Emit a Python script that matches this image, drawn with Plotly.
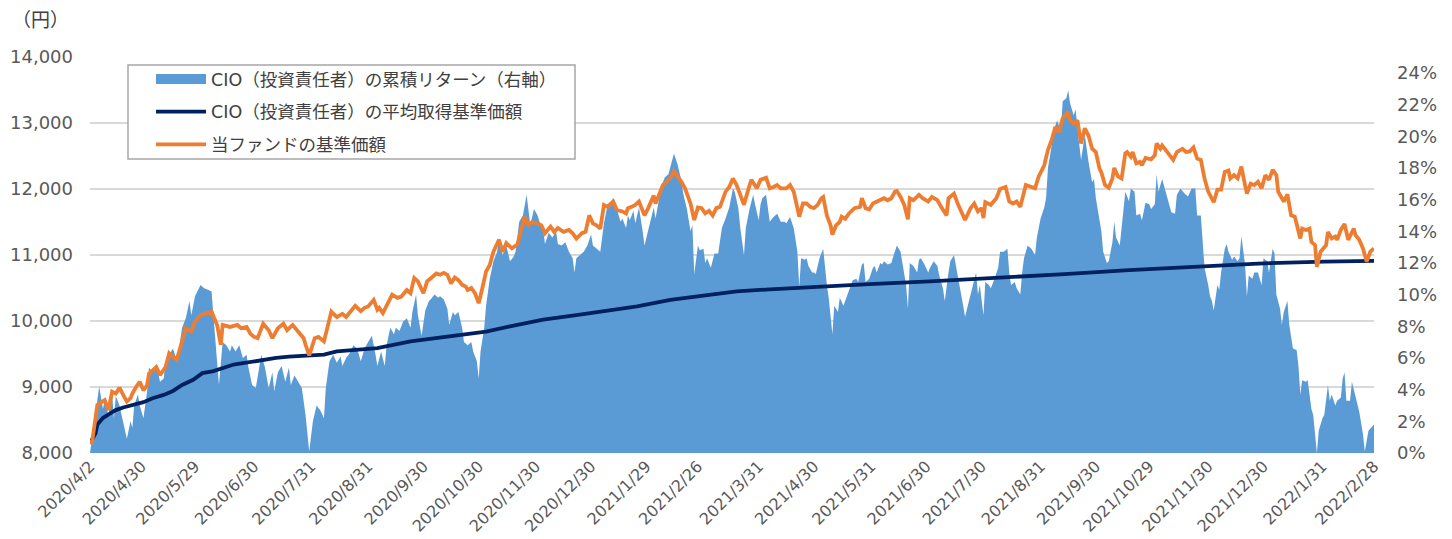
import pandas as pd
import plotly.graph_objects as go

START = "2020-04-02"
END = "2022-02-28"

tick_labels = ["2020/4/2", "2020/4/30", "2020/5/29", "2020/6/30", "2020/7/31", "2020/8/31",
               "2020/9/30", "2020/10/30", "2020/11/30", "2020/12/30", "2021/1/29", "2021/2/26",
               "2021/3/31", "2021/4/30", "2021/5/31", "2021/6/30", "2021/7/30", "2021/8/31",
               "2021/9/30", "2021/10/29", "2021/11/30", "2021/12/30", "2022/1/31", "2022/2/28"]

pct_tick_values = [0, 2, 4, 6, 8, 10, 12, 14, 16, 18, 20, 22, 24]
pct_tick_labels = ["0%", "2%", "4%", "6%", "8%", "10%", "12%", "14%", "16%", "18%", "20%", "22%", "24%"]

series_names = ["CIO（投資責任者）の累積リターン（右軸）",
                "CIO（投資責任者）の平均取得基準価額",
                "当ファンドの基準価額"]

# (calendar days since 2020-04-02, cumulative return in %)
cio_return_pct = [
    (0, 0.0), (3, 2.6), (5, 4.2), (7, 2.8), (8, 3.3), (10, 2.4), (12, 3.7), (13, 2.2), (14, 3.6), (16, 3.0),
    (18, 2.0), (20, 0.9), (22, 2.0), (23, 1.6), (24, 3.0), (26, 3.7), (27, 3.0), (29, 2.2), (31, 3.9), (32, 5.4),
    (34, 5.1), (36, 5.6), (38, 4.5), (40, 4.7), (41, 5.8), (43, 6.2), (45, 6.6), (47, 5.9), (48, 6.4), (50, 7.9),
    (52, 8.5), (54, 9.6), (55, 8.7), (56, 9.3), (57, 9.9), (60, 10.6), (62, 10.4), (64, 10.3), (66, 10.2), (68, 7.2),
    (70, 4.3), (72, 7.0), (74, 6.8), (76, 6.4), (77, 6.8), (79, 6.4), (81, 6.8), (83, 6.0), (85, 6.2), (86, 5.4),
    (88, 4.3), (90, 4.1), (91, 4.9), (93, 6.2), (95, 5.4), (97, 4.1), (99, 5.1), (100, 3.9), (102, 5.1), (104, 5.5),
    (106, 4.5), (108, 5.4), (109, 4.3), (111, 4.9), (113, 4.5), (115, 4.1), (117, 2.4), (118, 1.2), (119, 0.1), (121, 2.0),
    (123, 3.0), (125, 2.7), (127, 2.2), (128, 4.1), (130, 5.8), (132, 6.2), (134, 5.7), (136, 6.1), (137, 5.5), (139, 6.0),
    (141, 6.3), (143, 6.8), (145, 6.6), (147, 5.8), (149, 6.6), (151, 7.0), (153, 7.4), (155, 6.2), (156, 5.5), (158, 6.4),
    (160, 5.5), (161, 6.8), (163, 7.9), (165, 7.5), (166, 7.9), (168, 7.7), (170, 8.3), (172, 8.5), (174, 7.9), (175, 8.9),
    (177, 10.0), (178, 8.7), (180, 7.4), (182, 9.0), (184, 9.6), (185, 9.7), (187, 10.0), (189, 9.8), (190, 9.9), (192, 9.7),
    (194, 9.1), (195, 8.1), (197, 8.9), (198, 8.7), (200, 8.9), (202, 7.9), (203, 7.0), (205, 6.8), (207, 7.0), (208, 6.4),
    (210, 5.8), (211, 4.7), (212, 6.4), (214, 7.9), (215, 9.3), (217, 11.0), (219, 12.1), (221, 12.7), (222, 13.6), (224, 12.5),
    (226, 13.1), (228, 12.1), (230, 12.4), (231, 12.7), (233, 14.6), (235, 15.0), (237, 16.3), (239, 14.4), (241, 15.4), (243, 15.0),
    (244, 14.6), (246, 14.1), (247, 13.2), (249, 13.9), (251, 13.6), (253, 14.0), (254, 13.2), (256, 13.1), (258, 13.3), (260, 12.7),
    (262, 12.3), (263, 11.4), (264, 12.3), (266, 12.5), (268, 12.7), (270, 13.1), (272, 13.8), (273, 13.1), (275, 12.9), (277, 12.7),
    (279, 14.5), (281, 15.7), (282, 15.5), (284, 16.1), (286, 15.4), (288, 14.6), (289, 14.8), (291, 14.2), (292, 15.0), (293, 14.7),
    (295, 15.3), (296, 14.5), (298, 15.5), (299, 14.8), (300, 14.0), (301, 13.1), (302, 13.6), (304, 14.4), (306, 15.5), (307, 14.8),
    (309, 16.1), (311, 17.1), (312, 17.4), (314, 17.6), (316, 18.6), (317, 18.9), (319, 18.2), (321, 17.2), (322, 16.4), (324, 15.4),
    (326, 14.0), (327, 14.4), (328, 11.3), (330, 13.1), (331, 12.8), (333, 12.9), (334, 12.0), (335, 12.3), (337, 11.7), (339, 12.6),
    (341, 12.6), (343, 14.2), (345, 14.8), (347, 15.5), (349, 16.7), (350, 16.5), (352, 15.4), (353, 14.2), (355, 12.5), (356, 14.2),
    (358, 15.4), (360, 16.3), (361, 15.7), (363, 14.7), (364, 15.7), (365, 16.1), (367, 16.3), (368, 15.4), (369, 14.6), (371, 14.9),
    (373, 15.1), (375, 14.6), (377, 14.6), (378, 14.5), (380, 14.9), (382, 14.2), (384, 12.7), (385, 10.5), (386, 12.3), (388, 12.2),
    (389, 12.3), (390, 11.8), (392, 11.4), (393, 11.4), (394, 11.3), (396, 12.3), (397, 12.6), (398, 12.9), (400, 10.6), (401, 9.8),
    (403, 7.5), (404, 9.3), (406, 8.9), (407, 9.8), (409, 9.3), (411, 10.0), (413, 10.6), (414, 10.9), (416, 11.0), (417, 10.8),
    (419, 11.9), (420, 12.0), (421, 10.8), (423, 11.0), (425, 11.7), (426, 11.8), (427, 11.4), (429, 12.0), (430, 11.9), (431, 12.1),
    (433, 11.9), (435, 12.0), (436, 12.4), (438, 13.1), (440, 12.7), (441, 11.9), (443, 10.6), (444, 9.1), (445, 12.0), (447, 11.8),
    (449, 11.4), (450, 12.2), (451, 12.3), (453, 11.9), (455, 11.4), (456, 11.7), (458, 12.1), (460, 11.8), (461, 11.2), (463, 10.4),
    (464, 9.6), (466, 11.4), (467, 12.1), (469, 12.5), (470, 11.9), (472, 10.6), (474, 9.3), (475, 8.6), (477, 9.6), (479, 10.6),
    (481, 11.4), (482, 10.0), (483, 10.6), (485, 8.7), (486, 10.8), (488, 10.6), (489, 10.4), (491, 11.0), (493, 11.7), (494, 12.7),
    (496, 12.7), (498, 12.9), (499, 11.4), (500, 10.6), (502, 10.8), (503, 10.4), (505, 10.0), (506, 11.4), (507, 12.3), (509, 13.1),
    (511, 12.9), (513, 12.5), (514, 13.6), (516, 14.8), (518, 15.5), (519, 16.1), (520, 18.0), (522, 19.4), (523, 20.3), (525, 21.0),
    (527, 20.3), (528, 22.2), (530, 22.4), (531, 22.9), (532, 22.1), (534, 21.3), (535, 21.7), (536, 20.5), (538, 18.5), (540, 20.1),
    (541, 19.2), (542, 18.4), (544, 17.1), (545, 17.3), (546, 16.1), (548, 14.8), (549, 14.0), (550, 12.7), (552, 12.0), (553, 12.1),
    (555, 13.3), (556, 14.6), (557, 13.6), (559, 13.1), (561, 15.4), (562, 16.5), (564, 15.9), (565, 16.7), (567, 16.5), (568, 15.0),
    (570, 15.1), (571, 14.7), (573, 15.8), (575, 15.7), (576, 15.4), (578, 15.7), (579, 17.6), (580, 16.5), (582, 17.3), (583, 16.9),
    (585, 16.1), (587, 15.2), (589, 15.1), (590, 16.3), (592, 16.7), (594, 16.4), (596, 16.2), (598, 16.7), (600, 16.7), (601, 15.0),
    (603, 15.0), (604, 13.6), (605, 11.7), (607, 10.6), (608, 9.9), (609, 9.6), (610, 9.0), (612, 10.6), (613, 10.3), (614, 11.4),
    (616, 12.9), (617, 13.2), (618, 12.7), (620, 12.2), (621, 12.4), (623, 12.1), (624, 12.3), (625, 13.7), (627, 11.9), (628, 9.9),
    (629, 11.2), (631, 11.0), (632, 11.4), (634, 11.4), (635, 11.0), (636, 10.6), (637, 12.3), (639, 12.1), (640, 11.4), (642, 12.9),
    (643, 12.6), (644, 10.0), (646, 9.1), (647, 8.1), (648, 8.9), (650, 9.6), (651, 8.1), (653, 6.6), (655, 6.5), (656, 5.5),
    (657, 3.7), (658, 4.6), (660, 4.5), (661, 4.6), (663, 2.8), (664, 2.4), (666, 0.0), (667, 1.4), (669, 2.2), (670, 2.4),
    (672, 4.3), (673, 3.3), (674, 3.7), (676, 3.0), (677, 3.3), (679, 3.5), (680, 4.7), (681, 5.1), (682, 3.3), (684, 3.3),
    (685, 4.5), (687, 3.5), (689, 2.6), (691, 1.2), (692, 0.1), (694, 1.4), (697, 1.8),
]

# (calendar days since 2020-04-02, yen)
cio_avg_cost = [
    (0, 8150), (3, 8300), (4, 8430), (7, 8530), (11, 8600), (14, 8650), (18, 8690), (23, 8720), (29, 8770), (34, 8830),
    (40, 8880), (45, 8940), (50, 9030), (56, 9110), (61, 9210), (67, 9240), (72, 9290), (78, 9340), (83, 9360), (89, 9390),
    (94, 9410), (101, 9440), (108, 9460), (119, 9480), (127, 9490), (134, 9540), (140, 9550), (156, 9590), (174, 9690), (192, 9760),
    (210, 9830), (215, 9840), (228, 9920), (246, 10020), (264, 10090), (280, 10160), (297, 10220), (315, 10320), (324, 10350), (333, 10390),
    (351, 10450), (369, 10480), (388, 10510), (406, 10540), (423, 10560), (456, 10600), (493, 10650), (529, 10710), (564, 10770), (598, 10820),
    (634, 10870), (670, 10900), (697, 10910),
]

# (calendar days since 2020-04-02, yen)
fund_nav = [
    (0, 8200), (1, 8140), (4, 8730), (7, 8780), (8, 8800), (10, 8650), (12, 8930), (14, 8900), (16, 8990), (18, 8880),
    (20, 8780), (22, 8830), (23, 8900), (25, 9000), (27, 9080), (29, 8950), (31, 9030), (32, 9200), (34, 9250), (36, 9300),
    (38, 9180), (41, 9300), (43, 9510), (45, 9460), (47, 9410), (50, 9690), (52, 9890), (55, 9840), (57, 9990), (60, 10090),
    (63, 10110), (66, 10140), (69, 9940), (71, 9640), (72, 9940), (76, 9910), (80, 9940), (82, 9890), (85, 9910), (87, 9810),
    (89, 9760), (91, 9740), (94, 9960), (97, 9860), (99, 9740), (102, 9890), (105, 9960), (107, 9860), (110, 9940), (113, 9840),
    (116, 9740), (117, 9640), (119, 9480), (122, 9740), (124, 9760), (127, 9690), (129, 9940), (131, 10140), (134, 10060), (137, 10110),
    (139, 10060), (141, 10120), (144, 10230), (147, 10150), (149, 10200), (151, 10220), (154, 10320), (156, 10170), (157, 10200), (159, 10120),
    (162, 10300), (164, 10400), (167, 10350), (169, 10370), (172, 10470), (174, 10420), (176, 10650), (178, 10600), (181, 10420), (183, 10600),
    (186, 10670), (188, 10720), (190, 10700), (192, 10730), (194, 10700), (196, 10570), (198, 10660), (200, 10620), (202, 10550), (204, 10520),
    (205, 10470), (207, 10500), (209, 10420), (211, 10270), (213, 10500), (215, 10750), (217, 10850), (219, 11050), (222, 11230), (224, 11050),
    (226, 11180), (229, 11100), (232, 11160), (234, 11400), (236, 11580), (238, 11450), (240, 11500), (243, 11480), (245, 11450), (247, 11330),
    (250, 11430), (252, 11350), (254, 11410), (257, 11350), (260, 11380), (262, 11330), (264, 11250), (267, 11330), (269, 11350), (271, 11600),
    (273, 11480), (275, 11450), (277, 11400), (279, 11760), (281, 11730), (282, 11760), (284, 11810), (286, 11680), (289, 11660), (291, 11630),
    (292, 11710), (294, 11730), (296, 11760), (298, 11810), (300, 11660), (301, 11600), (303, 11710), (306, 11900), (307, 11780), (310, 12010),
    (311, 12060), (314, 12140), (315, 12160), (317, 12270), (319, 12200), (321, 12110), (323, 12010), (325, 11860), (326, 11780), (328, 11530),
    (330, 11720), (332, 11710), (334, 11630), (336, 11670), (338, 11600), (340, 11710), (342, 11730), (345, 11960), (347, 12030), (349, 12160),
    (351, 12060), (353, 11910), (355, 11760), (357, 11960), (359, 12140), (362, 12010), (364, 12140), (367, 12170), (369, 12010), (371, 12030),
    (373, 12060), (375, 12010), (378, 12010), (380, 12060), (382, 11960), (384, 11710), (385, 11580), (387, 11780), (389, 11780), (391, 11730),
    (393, 11710), (395, 11760), (397, 11860), (398, 11880), (400, 11600), (402, 11450), (403, 11310), (405, 11450), (407, 11500), (408, 11580),
    (410, 11550), (412, 11630), (415, 11710), (418, 11730), (419, 11860), (421, 11710), (423, 11690), (425, 11780), (427, 11810), (429, 11830),
    (431, 11860), (433, 11830), (435, 11860), (437, 11960), (438, 11970), (440, 11880), (442, 11760), (444, 11540), (445, 11860), (447, 11830),
    (450, 11910), (452, 11860), (455, 11810), (457, 11880), (460, 11830), (462, 11730), (465, 11600), (466, 11860), (469, 11930), (471, 11780),
    (473, 11660), (475, 11530), (478, 11710), (480, 11780), (482, 11660), (484, 11710), (485, 11560), (486, 11800), (489, 11760), (492, 11860),
    (494, 12000), (497, 12030), (499, 11810), (501, 11780), (503, 11810), (505, 11730), (508, 12060), (511, 12030), (513, 12010), (515, 12190),
    (518, 12360), (520, 12590), (522, 12740), (524, 12940), (526, 12860), (528, 13070), (531, 13170), (532, 13040), (534, 12990), (536, 13040),
    (538, 12690), (540, 12920), (542, 12810), (544, 12610), (546, 12560), (548, 12310), (549, 12250), (551, 12060), (553, 12020), (555, 12160),
    (556, 12320), (558, 12190), (560, 12160), (562, 12540), (563, 12560), (565, 12490), (566, 12560), (568, 12390), (570, 12410), (571, 12360),
    (573, 12470), (576, 12450), (578, 12510), (579, 12690), (581, 12610), (582, 12660), (585, 12540), (588, 12440), (590, 12560), (593, 12610),
    (595, 12560), (597, 12570), (599, 12630), (601, 12460), (603, 12440), (605, 12160), (607, 11960), (609, 11860), (610, 11800), (612, 11990),
    (614, 11990), (616, 12260), (618, 12280), (619, 12160), (621, 12210), (623, 12160), (625, 12340), (627, 12060), (628, 11930), (630, 12080),
    (632, 12060), (634, 12110), (636, 12010), (638, 12210), (640, 12140), (642, 12290), (644, 12210), (645, 11960), (648, 11810), (650, 11920),
    (652, 11600), (654, 11580), (657, 11250), (658, 11400), (660, 11380), (662, 11400), (663, 11200), (665, 11150), (666, 10820), (668, 11050),
    (671, 11150), (672, 11350), (674, 11250), (676, 11280), (677, 11230), (679, 11380), (681, 11470), (683, 11230), (686, 11400), (687, 11300),
    (689, 11230), (691, 11100), (693, 10900), (695, 11050), (697, 11100),
]

BLUE = "#5B9BD5"
NAVY = "#002060"
ORANGE = "#ED7D31"


def to_xy(pairs):
    base = pd.Timestamp(START)
    xs = [base + pd.Timedelta(days=d) for d, _ in pairs]
    ys = [v for _, v in pairs]
    return xs, ys


rx, ry = to_xy(cio_return_pct)
ax_, ay = to_xy(cio_avg_cost)
nx, ny = to_xy(fund_nav)
tick_dates = pd.to_datetime(tick_labels, format="%Y/%m/%d")

fig = go.Figure()
# cumulative return area (base y axis = right-hand % axis, drawn underneath the lines)
fig.add_trace(go.Scatter(x=rx, y=ry, yaxis="y", mode="lines", fill="tozeroy",
                         line=dict(width=0, color=BLUE), fillcolor=BLUE,
                         name=series_names[0], legendgroup="g1", showlegend=False,
                         hoverinfo="skip"))
# legend swatch for the area
fig.add_trace(go.Scatter(x=[None], y=[None], yaxis="y", mode="lines",
                         line=dict(width=12, color=BLUE),
                         name=series_names[0], legendgroup="g1", showlegend=True))
fig.add_trace(go.Scatter(x=ax_, y=ay, yaxis="y2", mode="lines",
                         line=dict(width=3.8, color=NAVY),
                         name=series_names[1], legendgroup="g2"))
fig.add_trace(go.Scatter(x=nx, y=ny, yaxis="y2", mode="lines",
                         line=dict(width=3.8, color=ORANGE),
                         name=series_names[2], legendgroup="g3"))

# page body has an 8px default margin -> figure is 8px smaller than the window
OFF = 8
W, H = 1452 - OFF, 539 - OFF
ML, MT = 90 - OFF, 57 - OFF
PW, PH = 1284, 396
MR, MB = W - ML - PW, H - MT - PH


def px_x(x):
    # window pixel -> paper fraction
    return (x - OFF - ML) / PW


def px_y(y):
    return 1 - (y - OFF - MT) / PH


fig.update_layout(
    width=W, height=H,
    margin=dict(l=ML, r=MR, t=MT, b=MB, autoexpand=False),
    paper_bgcolor="white", plot_bgcolor="white",
    font=dict(family="DejaVu Sans, Noto Sans CJK JP, sans-serif", size=18, color="#595959"),
    xaxis=dict(type="date", range=[START, END], tickmode="array", tickvals=tick_dates,
               ticktext=tick_labels, tickangle=-45, showgrid=False, zeroline=False,
               showline=False, ticks="", tickfont=dict(size=16), ticklabelstandoff=0,
               automargin=False),
    yaxis=dict(range=[0, 25], tickmode="array", tickvals=pct_tick_values,
               ticktext=pct_tick_labels, side="right", showgrid=False, zeroline=False,
               showline=False, ticks="", ticklabelstandoff=22, automargin=False),
    yaxis2=dict(range=[8000, 14000], dtick=1000, tick0=8000, tickformat=",d",
                overlaying="y", side="left", showgrid=True, gridcolor="#D9D9D9",
                gridwidth=1.5, zeroline=False, showline=False, ticks="",
                ticklabelstandoff=16, automargin=False),
    showlegend=True,
    legend=dict(x=px_x(151), y=px_y(61), xanchor="left", yanchor="top",
                bgcolor="rgba(0,0,0,0)", borderwidth=0, itemwidth=50,
                tracegroupgap=7, traceorder="grouped",
                font=dict(size=17.5, color="#404040")),
    shapes=[dict(type="rect", xref="paper", yref="paper",
                 x0=px_x(128), x1=px_x(575), y0=px_y(159), y1=px_y(65),
                 line=dict(color="#A6A6A6", width=1.5), fillcolor="white", layer="above")],
    annotations=[dict(text="（円）", xref="paper", yref="paper", x=px_x(40), y=px_y(20),
                      xanchor="center", yanchor="middle", showarrow=False,
                      font=dict(size=19, color="#404040"))],
)

fig.write_html("out.html")
